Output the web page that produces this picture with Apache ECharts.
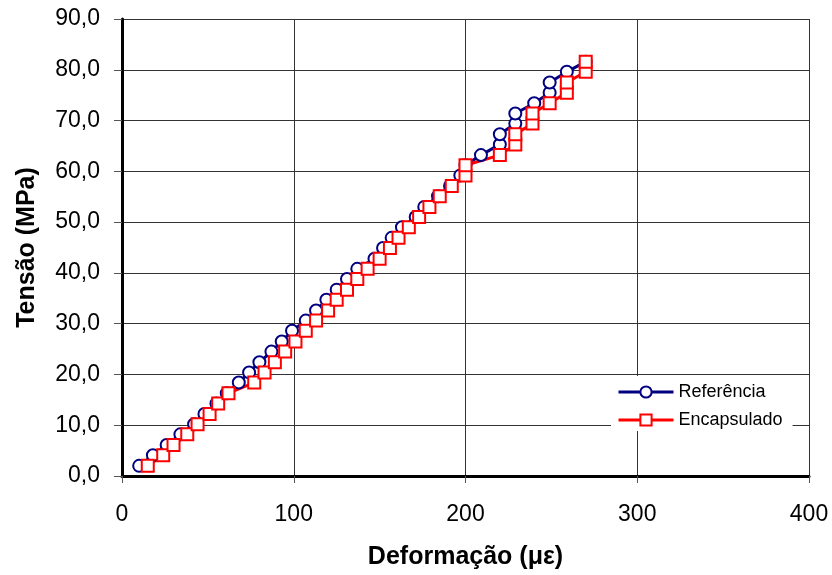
<!DOCTYPE html>
<html>
<head>
<meta charset="utf-8">
<script src="https://cdn.jsdelivr.net/npm/echarts@6/dist/echarts.min.js"></script>
<style>
  html, body { margin: 0; padding: 0; background: #fff; }
  #chart { width: 832px; height: 575px; }
</style>
</head>
<body>
<div id="chart"></div>
<script>
// tensão (MPa) per load step
var tensao = [2.0, 4.1, 6.1, 8.2, 10.2, 12.2, 14.3, 16.3, 18.4, 20.4,
  22.4, 24.5, 26.5, 28.6, 30.6, 32.6, 34.7, 36.7, 38.8, 40.8,
  42.8, 44.9, 46.9, 49.0, 51.0, 53.0, 55.1, 57.1, 59.2, 61.2,
  63.2, 65.3, 67.3, 69.4, 71.4, 73.4, 75.5, 77.5, 79.6, 81.6];
// deformação (µε)
var referencia = [10, 18, 26, 34, 42, 48, 55, 61, 68, 74,
  80, 87, 93, 99, 107, 113, 119, 125, 131, 137,
  147, 152, 157, 163, 171, 176, 184, 191, 197, 200,
  209, 220, 220, 229, 229, 240, 249, 249, 259, 270];
var encapsulado = [15, 24, 30, 38, 44, 51, 56, 62, 77, 83,
  89, 95, 101, 107, 113, 120, 125, 131, 137, 143,
  150, 156, 161, 167, 173, 179, 185, 192, 200, 200,
  220, 229, 229, 239, 239, 249, 259, 259, 270, 270];

var xTicks = { min: 0, max: 400, step: 100 };
var yTicks = { min: 0, max: 90, step: 10 };

function pares(xs, ys) {
  var out = [];
  for (var i = 0; i < xs.length; i++) out.push([xs[i], ys[i]]);
  return out;
}

var fonte = "'Liberation Sans', Arial, sans-serif";
var chart = echarts.init(document.getElementById("chart"));
chart.setOption({
  animation: false,
  backgroundColor: "#fff",
  textStyle: { fontFamily: fonte },
  grid: { left: 122, right: 23, top: 19, bottom: 99, containLabel: false },
  legend: {
    orient: "vertical",
    left: 611,
    top: 376,
    padding: [7, 10, 2, 6],
    itemWidth: 55,
    itemHeight: 14,
    itemGap: 10,
    backgroundColor: "#fff",
    lineStyle: { width: 3 },
    textStyle: { fontSize: 18, color: "#000", fontFamily: fonte },
    data: ["Referência", "Encapsulado"]
  },
  xAxis: {
    type: "value",
    min: xTicks.min,
    max: xTicks.max,
    interval: xTicks.step,
    name: "Deformação (με)",
    nameLocation: "middle",
    nameGap: 69,
    nameTextStyle: { fontSize: 25, fontWeight: "bold", color: "#000", fontFamily: fonte },
    axisLine: { onZero: false, lineStyle: { color: "#000", width: 3 } },
    axisTick: { show: true, length: 7, lineStyle: { color: "#555" } },
    axisLabel: { fontSize: 23, color: "#000", margin: 27 },
    splitLine: { show: true, lineStyle: { color: "#333", width: 1 } }
  },
  yAxis: {
    type: "value",
    min: yTicks.min,
    max: yTicks.max,
    interval: yTicks.step,
    name: "Tensão (MPa)",
    nameLocation: "middle",
    nameGap: 82,
    nameTextStyle: { fontSize: 25, fontWeight: "bold", color: "#000", fontFamily: fonte },
    axisLine: { onZero: false, lineStyle: { color: "#000", width: 3 } },
    axisTick: { show: true, length: 8, lineStyle: { color: "#555" } },
    axisLabel: {
      fontSize: 23,
      color: "#000",
      margin: 22,
      formatter: function (v) { return v.toFixed(1).replace(".", ","); }
    },
    splitLine: { show: true, lineStyle: { color: "#333", width: 1 } }
  },
  series: [
    {
      name: "Referência",
      type: "line",
      data: pares(referencia, tensao),
      symbol: "circle",
      symbolSize: 12,
      color: "#000080",
      lineStyle: { color: "#000080", width: 3 },
      itemStyle: { color: "#fff", borderColor: "#000080", borderWidth: 2 }
    },
    {
      name: "Encapsulado",
      type: "line",
      data: pares(encapsulado, tensao),
      symbol: "rect",
      symbolSize: 12,
      color: "#ff0000",
      lineStyle: { color: "#ff0000", width: 3 },
      itemStyle: { color: "#fff", borderColor: "#ff0000", borderWidth: 2 }
    }
  ]
});
</script>
</body>
</html>
